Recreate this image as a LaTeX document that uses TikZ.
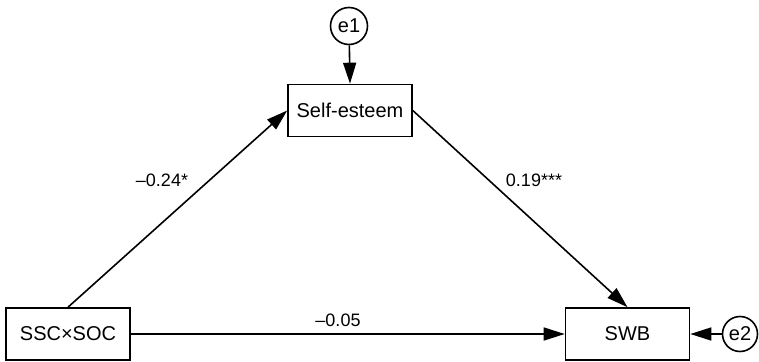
\documentclass[tikz,border=0pt]{standalone}
\usepackage{fontspec}
\setmainfont{Liberation Sans}
\usetikzlibrary{arrows.meta}
\begin{document}
\begin{tikzpicture}[x=1pt,y=-1pt,
  box/.style={draw,line width=1.6pt,rectangle,minimum width=124pt,minimum height=52pt,inner sep=0pt,font=\fontsize{20}{22}\selectfont},
  err/.style={draw,line width=1.6pt,circle,minimum size=37pt,inner sep=0pt,font=\fontsize{20}{22}\selectfont},
  conn/.style={line width=1.6pt,-{Triangle[length=21pt,width=13pt]}},
  lab/.style={font=\fontsize{18}{20}\selectfont,inner sep=0pt}]
\useasboundingbox (0,0) rectangle (759,361);
\node[err] (e1) at (349,26) {e1};
\node[box] (se) at (350,110.5) {Self-esteem};
\node[box] (ssc) at (68,334) {SSC×SOC};
\node[box] (swb) at (627.5,334) {SWB};
\node[err,minimum size=35pt] (e2) at (740,334) {e2};
\draw[conn] (e1) -- (se.north);
\draw[conn] (e2) -- (swb.east);
\draw[conn] (ssc.north) -- (se.west);
\draw[conn] (se.east) -- (swb.north);
\draw[conn] (ssc.east) -- (swb.west);
\node[lab] (l1) at (162,180) {–0.24*};
\node[lab] (l2) at (534,180) {0.19***};
\node[lab] (l3) at (338,320) {–0.05};
\end{tikzpicture}
\end{document}
